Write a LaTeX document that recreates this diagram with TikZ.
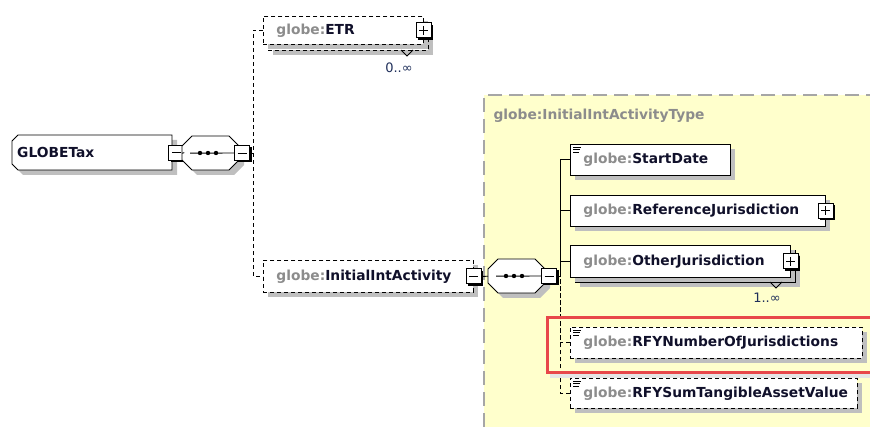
\documentclass[tikz,border=0pt]{standalone}
\usepackage{fontspec}
\setmainfont{DejaVu Sans}
\usetikzlibrary{shadows}

\definecolor{typeyellow}{HTML}{FFFFCC}
\definecolor{globegray}{HTML}{8C8C8C}
\definecolor{namedark}{HTML}{10102A}
\definecolor{occblue}{HTML}{1F2F5A}
\definecolor{marker}{HTML}{E8474A}
\newcommand{\gl}[1]{{\color{globegray}globe:}{\color{namedark}#1}}
% outline of the root element and of a sequence compositor (top left corner given)
\newcommand{\rootshape}{(18,135) -- (172,135) -- (172,170) -- (18,170) -- (12,164) -- (12,141) -- cycle}
\newcommand{\seqshape}[2]{(#1,#2) ++(0,10) -- ++(10,-10) -- ++(37,0) -- ++(10,10) -- ++(0,14) -- ++(-10,10) -- ++(-37,0) -- ++(-10,-10) -- cycle}

\tikzset{
  elem/.style={rectangle, draw, fill=white, anchor=north west, line width=0.9pt,
    minimum height=31pt, inner xsep=13pt, inner ysep=0pt, align=left,
    font=\fontsize{13.8}{16}\selectfont\bfseries,
    general shadow={fill=black!25, shadow xshift=5pt, shadow yshift=-5pt}},
  opt/.style={dash pattern=on 4pt off 3pt},
  frame/.style={rectangle, draw=none, inner sep=0pt, anchor=north west},
  shade/.style={fill=black!25, shift={(5,5)}},
  outline/.style={draw, fill=white, line width=0.9pt},
  pmbox/.style={rectangle, draw, fill=white, line width=0.9pt, minimum size=15pt,
    inner sep=0pt, general shadow={fill=black, shadow xshift=2pt, shadow yshift=-2pt}},
  minus/.style={pmbox, path picture={
    \draw[line width=0.9pt] ([xshift=3pt]path picture bounding box.west) -- ([xshift=-3pt]path picture bounding box.east);}},
  plus/.style={pmbox, path picture={
    \draw[line width=0.9pt] ([xshift=3pt]path picture bounding box.west) -- ([xshift=-3pt]path picture bounding box.east);
    \draw[line width=0.9pt] ([yshift=-3pt]path picture bounding box.north) -- ([yshift=3pt]path picture bounding box.south);}},
  conn/.style={line width=0.9pt},
  occ/.style={font=\fontsize{13}{15}\selectfont, text=occblue},
}

\begin{document}
\begin{tikzpicture}[x=1pt, y=-1pt]
\useasboundingbox (0,0) rectangle (870,427);

% complex type area
\fill[typeyellow] (484,95) rectangle (880,440);
\draw[gray!70, line width=1.2pt, dash pattern=on 14pt off 7pt] (880,95) -- (484,95) -- (484,440);
\node[anchor=west, font=\fontsize{13.8}{16}\selectfont\bfseries, text=globegray] (typelbl) at (490,116) {globe:InitialIntActivityType};

% root element
\fill[shade] \rootshape;
\draw[outline] \rootshape;
\node[frame, minimum width=160pt, minimum height=35pt, text width=154pt, inner xsep=5pt,
  font=\fontsize{13.8}{16}\selectfont\bfseries, text=namedark] (root) at (12,135) {GLOBETax};
\node[minus] (rootm) at (root.east) {};

\fill[shade] \seqshape{182}{136};
\draw[outline] \seqshape{182}{136};
\node[frame, minimum width=57pt, minimum height=34pt] (seq1) at (182,136) {};
\node[minus] (seq1m) at (242,153) {};
\draw[conn] ([xshift=8pt]seq1.west) -- (seq1m.west);
\foreach \dx in {200,208,216} \fill (\dx,153) circle (2.2pt);

% first level
\node[elem, opt, text width=134pt, minimum height=28pt] (etrb) at (268,22) {};
\node[elem, opt, text width=134pt, minimum height=28pt, general shadow={fill=none}] (etr) at (263,16) {\gl{ETR}};
\node[plus] (etrp) at (etr.east) {};
\draw[line width=0.8pt] (401,50) -- (407,56) -- (413,50);
\node[occ] (etrocc) at (399,68) {0..∞};

\node[elem, opt, text width=184pt, minimum height=32pt] (init) at (263,260) {\gl{InitialIntActivity}};
\node[minus] (initm) at (init.east) {};

\fill[shade] \seqshape{488}{259};
\draw[outline] \seqshape{488}{259};
\node[frame, minimum width=57pt, minimum height=34pt] (seq2) at (488,259) {};
\node[minus] (seq2m) at (549,276) {};
\draw[conn] ([xshift=8pt]seq2.west) -- (seq2m.west);
\foreach \dx in {506,514,522} \fill (\dx,276) circle (2.2pt);

% children of the type
\node[elem, text width=134pt] (start) at (570,144) {\gl{StartDate}};
\node[elem, text width=229pt] (refj) at (570,195) {\gl{ReferenceJurisdiction}};
\node[plus] (refjp) at (refj.east) {};
\node[elem, text width=194pt, minimum height=32pt] (othjb) at (575,250) {};
\node[elem, text width=194pt, minimum height=32pt, general shadow={fill=none}] (othj) at (570,245) {\gl{OtherJurisdiction}};
\node[plus] (othjp) at (othj.east) {};
\draw[line width=0.8pt] (770,282) -- (776,288) -- (782,282);
\node[occ] (othjocc) at (767,298) {1..∞};
\node[elem, opt, text width=266pt] (rfyn) at (570,327) {\gl{RFYNumberOfJurisdictions}};
\node[elem, opt, text width=261pt, minimum height=30pt] (rfys) at (570,378) {\gl{RFYSumTangibleAssetValue}};

\foreach \n in {start,rfyn,rfys} {
  \draw[line width=0.7pt] ([shift={(3pt,-3pt)}]\n.north west) -- ++(8pt,0);
  \draw[line width=0.7pt] ([shift={(3pt,-5.5pt)}]\n.north west) -- ++(7pt,0);
  \draw[line width=0.7pt] ([shift={(3pt,-8pt)}]\n.north west) -- ++(6pt,0);
}

% connectors
\coordinate (fork1) at (253,153);
\coordinate (fork2) at (560,276);
\draw[conn] (rootm.east) -- (seq1.west);
\draw[conn] (seq1m.east) -- (fork1);
\draw[conn, opt] (etr.west) -| (fork1) |- (init.west);
\draw[conn] (initm.east) -- (seq2.west);
\draw[conn] (seq2m.east) -- (fork2);
\draw[conn] (start.west) -| (fork2);
\draw[conn] (refj.west) -| (fork2);
\draw[conn] (othj.west) -| (fork2);
\draw[conn, opt] (rfyn.west) -| (fork2);
\draw[conn, opt] (rfys.west) -| (fork2);

% highlight
\fill[black!10] (550,374) rectangle (880,378);
\draw[marker, line width=3pt] (547,318) rectangle (880,373);

\end{tikzpicture}
\end{document}
